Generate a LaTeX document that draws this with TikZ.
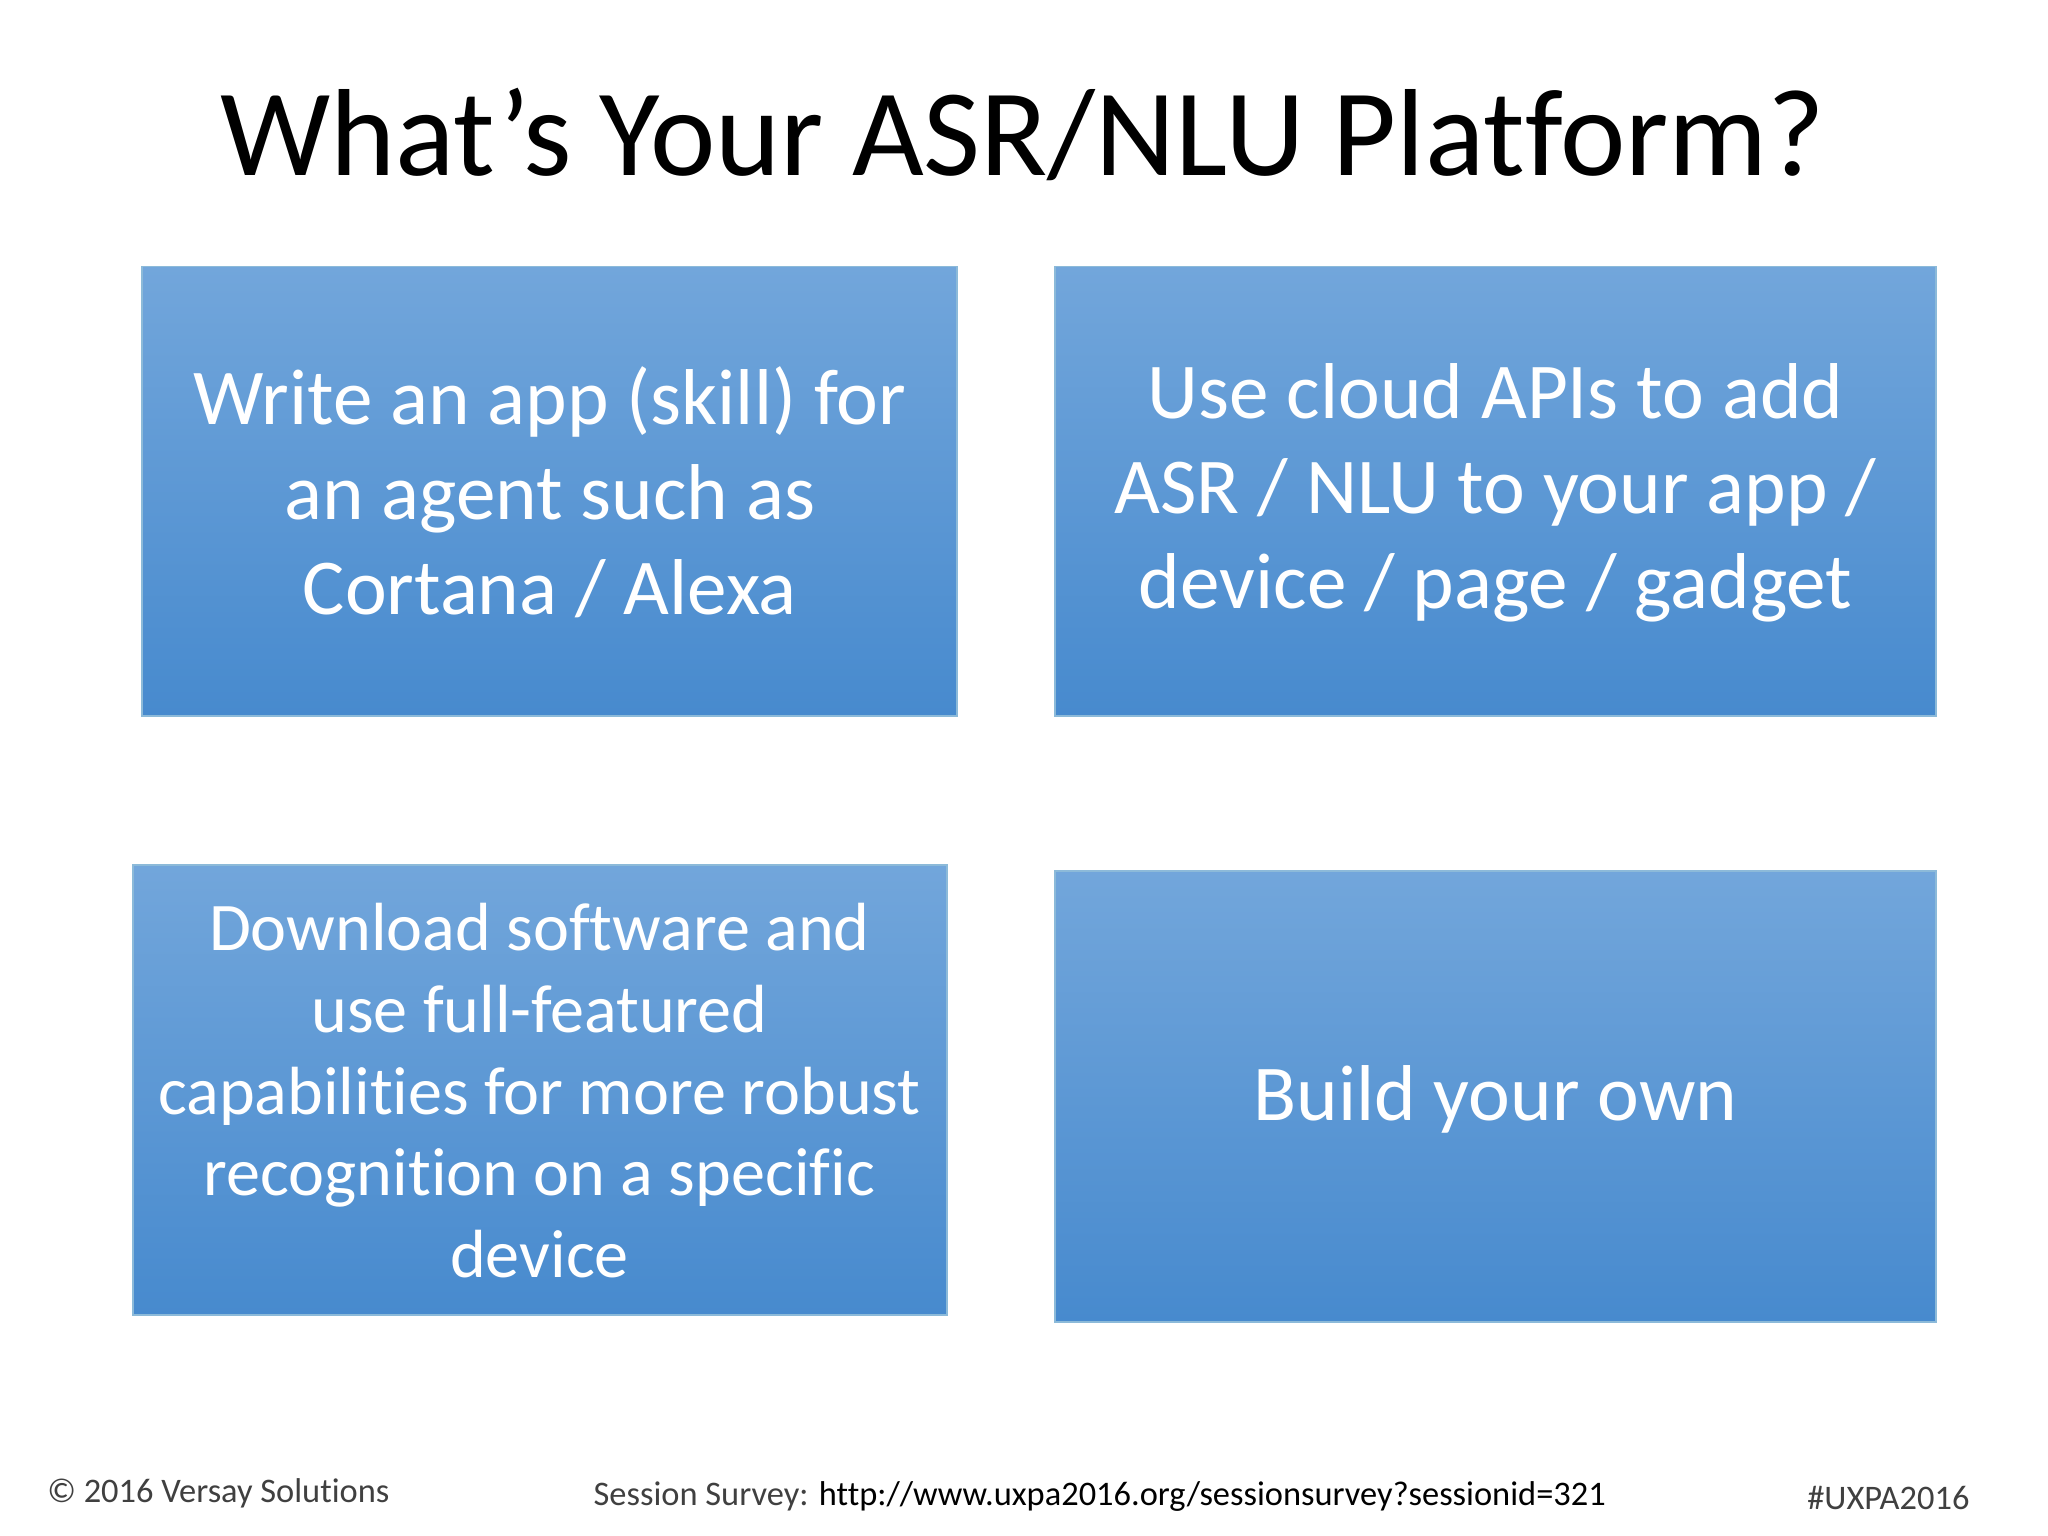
\documentclass[tikz,border=0pt]{standalone}
\usepackage{fontspec}
\setmainfont[Ligatures={NoCommon}]{Carlito}
\begin{document}
\begin{tikzpicture}[x=0.02cm,y=-0.02cm,
  tile/.style={draw=blue!40!cyan!50!gray!60, line width=0.8pt, top color={rgb,255:red,114;green,166;blue,219}, bottom color={rgb,255:red,71;green,138;blue,206}},
  tiletext/.style={text=white, align=center, font=\fontsize{34.5}{41}\selectfont}]
\useasboundingbox (0,0) rectangle (1568,1176);
\fill[white] (0,0) rectangle (1568,1176);
\node[font=\fontsize{54}{70}\selectfont] (title) at (783,103) {What’s Your ASR/NLU Platform?};
\draw[tile] (109,204) rectangle (733,548);
\draw[tile] (808,204) rectangle (1482,548);
\draw[tile] (102,662) rectangle (725,1007);
\draw[tile] (808,667) rectangle (1482,1012);
\node[tiletext, font=\fontsize{34.5}{41.4}\selectfont] (t1) at (421,377) {Write an app (skill) for\\an agent such as\\Cortana / Alexa};
\node[tiletext, font=\fontsize{34.5}{41.4}\selectfont] (t2) at (1145,377) {Use cloud APIs to add\\ASR / NLU to your app /\\device / page / gadget};
\node[tiletext, font=\fontsize{29.7}{35.7}\selectfont] (t3) at (413,835) {Download software and\\use full-featured\\capabilities for more robust\\recognition on a specific\\device};
\node[tiletext] (t4) at (1145,842) {Build your own};
\node[font=\fontsize{15}{20}\selectfont, text=black!75, anchor=west] (f1) at (30,1143) {© 2016 Versay Solutions};
\node[font=\fontsize{15}{20}\selectfont, text=black!75] (f2) at (842,1146) {Session Survey: \textcolor{black}{http://www.uxpa2016.org/sessionsurvey?sessionid=321}};
\node[font=\fontsize{15}{20}\selectfont, text=black!75, anchor=east] (f3) at (1514,1147) {\#UXPA2016};
\end{tikzpicture}
\end{document}
